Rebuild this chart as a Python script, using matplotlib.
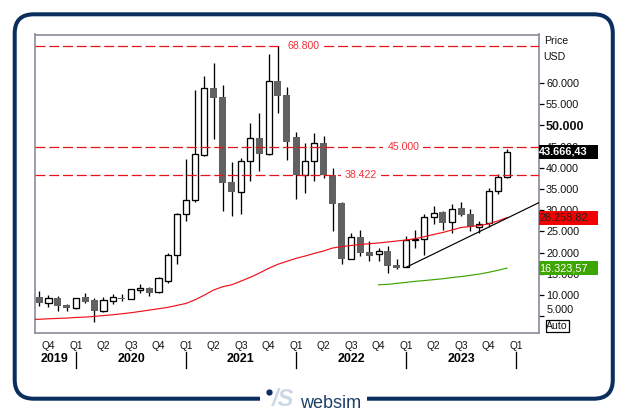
import numpy as np
import matplotlib
matplotlib.use('Agg')
import matplotlib.pyplot as plt
from matplotlib.patches import FancyBboxPatch, Rectangle

W, H = 627, 413

# monthly candles, oldest first
opens = [9430, 8150, 9260, 7610, 6970, 9430, 8790, 6260, 8625, 9330, 9100, 11150, 11555, 10610, 13350, 19350,
         29040, 32350, 43125, 58890, 56760, 36675, 34380, 41565, 47070, 43360, 60540, 57230, 47310, 38260, 41565,
         45890, 38260, 31710, 18550, 23680, 20130, 19590, 20370, 16990, 16520, 22900, 23130, 28330, 29585, 27150,
         30460, 29110, 26040, 26985, 34480, 37785]
closes = [8150, 9190, 7370, 6900, 9330, 8320, 6260, 8720, 9430, 9100, 11320, 11555, 10515, 13990, 19350, 29040,
          32350, 43220, 58815, 56520, 36510, 34310, 41565, 47000, 43290, 60470, 57000, 46130, 38260, 41565, 45820,
          38260, 31550, 18480, 23610, 19970, 19190, 20300, 16825, 16350, 22970, 23205, 28330, 29280, 27055, 30220,
          28875, 25970, 26820, 34480, 37785, 43666]
highs = [10920, 9970, 9740, 7845, 9330, 10440, 9190, 9430, 10210, 10140, 11460, 12570, 11790, 14150, 19825, 29280,
         42110, 58410, 61720, 64790, 59595, 41330, 42270, 50615, 52980, 66920, 68800, 59120, 48490, 45890, 48250,
         47540, 39980, 31880, 24620, 25330, 22730, 21080, 21550, 18480, 23910, 25330, 29110, 31000, 29820, 31475,
         31950, 30290, 27460, 35260, 38490, 44420]
lows = [7370, 7210, 6260, 6260, 6735, 8150, 3590, 6030, 7845, 8625, 8955, 10515, 9740, 10370, 12880, 17300,
        27530, 32020, 42890, 46835, 29890, 28640, 29110, 36910, 39270, 43050, 52980, 41870, 32660, 34070, 36910,
        37620, 25100, 17300, 18550, 19260, 18010, 18010, 15170, 16120, 16520, 21080, 19420, 26750, 25330, 24620,
        28640, 25100, 24620, 26110, 33840, 37550]

# red moving average, starts one month before the first candle
ma_red = [4220, 4260, 4380, 4460, 4540, 4695, 4775, 4930, 5130, 5325, 5560, 5800, 6110, 6430, 6740, 7060, 7530,
          8000, 8870, 9970, 11150, 11940, 12410, 13280, 14150, 15170, 16270, 17220, 17930, 18640, 19190, 19820,
          20370, 21080, 21430, 21670, 21905, 22095, 22260, 22500, 22730, 22970, 23280, 23750, 24270, 24740, 25330,
          25920, 26160, 26395, 26750, 27460, 28259]
# green average only drawn for the last 15 months
ma_green = [12410, 12500, 12740, 12970, 13210, 13400, 13610, 13820, 14110, 14340, 14630, 14930, 15340, 15810, 16324]

trend_x = [40, 54.5]
trend_y = [16520, 31800]

levels = [68800, 45000, 38422]
level_labels = ['68.800', '45.000', '38.422']
level_label_x = [28.8, 39.7, 35.1]

price_ticks = [5000, 10000, 15000, 20000, 25000, 30000, 35000, 40000, 45000, 50000, 55000, 60000]
price_labels = ['', '10.000', '15.000', '20.000', '25.000', '30.000', '35.000', '40.000', '45.000', '50.000',
                '55.000', '60.000']
quarter_ticks = list(range(1, 53, 3))
quarter_labels = ['Q4', 'Q1', 'Q2', 'Q3'] * 4 + ['Q4', 'Q1']
year_ticks = [4, 16, 28, 40, 52]
years = ['2019', '2020', '2021', '2022', '2023']
year_x = [1.7, 10, 21.9, 34, 46]

fig = plt.figure(figsize=(W / 100, H / 100), dpi=100, facecolor='white')
plt.rcParams['font.family'] = ['Liberation Sans', 'DejaVu Sans']

# overlay in pixels for the frame and the logo
bg = fig.add_axes([0, 0, 1, 1], zorder=0)
bg.set_xlim(0, W)
bg.set_ylim(H, 0)
bg.axis('off')
navy = '#0b2e5e'
frame = FancyBboxPatch((14.7, 14.3), 598.1, 384.4, boxstyle='round,pad=0,rounding_size=19', fc='white', ec=navy, lw=2.9)
bg.add_patch(frame)
bg.add_patch(Rectangle((260, 392), 107, 14, fc='white', ec='none', zorder=3))
bg.plot([269], [392], 'o', color=navy, ms=3.5, zorder=4)
bg.text(283, 406, '/S', color='#cdd8e6', fontsize=17, fontweight='bold', style='italic', ha='center', va='baseline', zorder=4)
bg.text(300, 407.5, 'websim', color='#1c3f68', fontsize=13, ha='left', va='baseline', zorder=4)

ax = fig.add_axes([35 / W, 1 - 333 / H, (538.7 - 35) / W, (333 - 34.5) / H], zorder=2)
ax.set_facecolor('white')
ax.set_xlim(-0.47, 54.46)
ax.set_ylim(1020, 71460)
for s in ax.spines.values():
    s.set_color('#8b8b9b')
    s.set_linewidth(1.2)

# level lines, the white box cuts the gap around the label
for lv, txt, lx in zip(levels, level_labels, level_label_x):
    ax.axhline(lv, color='#e8141c', lw=0.9, dashes=(8, 3), zorder=4.5)
    ax.text(lx, lv, txt, color='#f03038', fontsize=7.6, ha='center', va='center', zorder=5,
            bbox=dict(fc='white', ec='none', pad=3))

# candles
idx = np.arange(len(opens))
for i in idx:
    up = closes[i] >= opens[i]
    ax.plot([i, i], [lows[i], highs[i]], color='black', lw=0.95, zorder=3, solid_capstyle='butt')
    lo, hi = min(opens[i], closes[i]), max(opens[i], closes[i])
    if up:
        ax.bar(i, hi - lo, bottom=lo, width=0.66, fc='white', ec='black', lw=0.95, zorder=4)
    else:
        ax.bar(i, hi - lo, bottom=lo, width=0.76, fc='#616161', ec='#616161', lw=0, zorder=4)

ax.plot(np.arange(-1, len(ma_red) - 1), ma_red, color='#f01018', lw=0.85, zorder=5)
ax.plot(np.arange(37, 37 + len(ma_green)), ma_green, color='#3fa500', lw=0.85, zorder=5)
ax.plot(trend_x, trend_y, color='black', lw=0.85, zorder=5)

# price axis
ax.yaxis.tick_right()
ax.set_yticks(price_ticks)
ax.set_yticklabels(price_labels, fontsize=7.8, color='#111111')
ax.tick_params(axis='y', length=3.6, width=0.9, pad=1.7, color='black')
for t, lab in zip(price_ticks, ax.get_yticklabels()):
    if t == 50000:
        lab.set_fontweight('bold')
        lab.set_fontsize(9)

# quarters and years
ax.set_xticks(quarter_ticks)
ax.set_xticklabels(quarter_labels, fontsize=7.3, color='#111111')
ax.tick_params(axis='x', length=0, pad=5.5)
for t in year_ticks:
    ax.plot([t, t], [-0.064, -0.116], transform=ax.get_xaxis_transform(), color='black', lw=0.95, clip_on=False)
for x, y in zip(year_x, years):
    ax.text(x, -0.088, y, transform=ax.get_xaxis_transform(), fontsize=9, fontweight='bold', ha='center', va='center')

# right side labels and value boxes
top = fig.add_axes([0, 0, 1, 1], zorder=3)
top.set_xlim(0, W)
top.set_ylim(H, 0)
top.axis('off')
top.patch.set_alpha(0)
top.text(544.3, 41, 'Price', fontsize=7.6, va='center', color='#111111')
top.text(543, 57, 'USD', fontsize=7.6, va='center', color='#111111')
top.text(546.5, 310, '5.000', fontsize=7.8, va='center', color='#111111')
boxes = [(145, '#000000', 'white', '43.666,43', 'bold'), (211, '#f40000', '#222222', '28.258,82', 'normal'),
         (261.3, '#3fa500', 'white', '16.323,57', 'normal')]
for y0, fc, tc, txt, fw in boxes:
    top.add_patch(Rectangle((539, y0), 59, 13.8, fc=fc, ec='none'))
    top.text(539.3, y0 + 7, txt, color=tc, fontsize=7.8, fontweight=fw, va='center')
top.add_patch(Rectangle((545.5, 319.5), 23.5, 12.8, fc='white', ec='black', lw=0.9))
top.text(557.2, 326, 'Auto', fontsize=7.6, ha='center', va='center', color='#111111')

fig.savefig('out.png', dpi=100)
